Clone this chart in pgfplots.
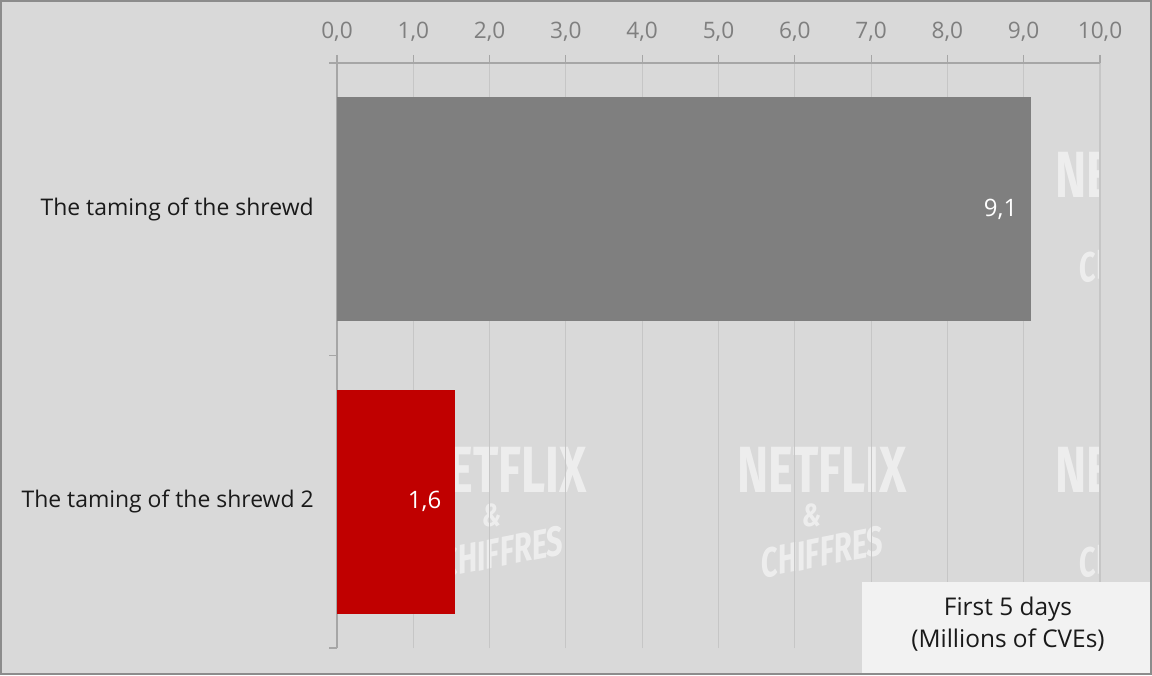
\documentclass[border=0pt]{standalone}
\usepackage{fontspec}
\setmainfont{Open Sans}
\newfontfamily\wmfont{Fira Sans}
\usepackage{pgfplots}
\pgfplotsset{compat=1.18}

\definecolor{bg}{HTML}{D9D9D9}
\definecolor{frameC}{HTML}{8C8C8C}
\definecolor{barGray}{HTML}{7F7F7F}
\definecolor{barRed}{HTML}{C00000}
\definecolor{gridC}{HTML}{C6C6C6}
\definecolor{axisC}{HTML}{A6A6A6}
\definecolor{tickC}{HTML}{7F7F7F}
\definecolor{boxC}{HTML}{F2F2F2}
\definecolor{txtC}{HTML}{1A1A1A}

% watermark block, x and y in pixels (y counted from the top)
\newcommand\wm[2]{%
  \node[white, opacity=0.55, xscale=0.72, font=\wmfont\bfseries\fontsize{49}{49}\selectfont]
    at (#1, 675-#2) {NETFLIX};
  \node[white, opacity=0.55, xscale=0.8, font=\wmfont\bfseries\itshape\fontsize{24}{24}\selectfont]
    at (#1-10, 675-#2-45) {\&};
  \node[white, opacity=0.55, xscale=0.72, rotate=8, font=\wmfont\bfseries\itshape\fontsize{31}{31}\selectfont]
    at (#1, 675-#2-82) {CHIFFRES};
}

\begin{document}
\begin{tikzpicture}
  \begin{scope}[x=0.75pt, y=0.75pt]
    \fill[bg] (0,0) rectangle (1152,675);
    % watermark, clipped to the plot area
    \begin{scope}
      \clip (337,27) rectangle (1100,612);
      \wm{502}{175}\wm{822}{175}\wm{1140}{175}
      \wm{502}{470}\wm{822}{470}\wm{1140}{470}
    \end{scope}
  \end{scope}

  \begin{axis}[
    at={(252.75pt,20.25pt)}, anchor=south west,
    scale only axis, width=572.25pt, height=438.75pt,
    xmin=0, xmax=10, ymin=-0.5, ymax=1.5,
    axis x line*=top, axis y line*=left,
    axis line style={axisC, line width=0.8pt},
    tick style={axisC, line width=0.8pt},
    tick align=outside, major tick length=6pt,
    xtick={0,...,10},
    xticklabel style={tickC, font=\fontsize{17}{17}\selectfont, yshift=6.5pt,
      /pgf/number format/.cd, fixed, fixed zerofill, precision=1, use comma, assume math mode=true},
    xmajorgrids, grid style={gridC, line width=0.8pt},
    ytick={-0.5,0.5,1.5}, yticklabels={},
    extra y ticks={0,1},
    extra y tick labels={The taming of the shrewd 2, The taming of the shrewd},
    extra y tick style={major tick length=0pt, grid=none,
      yticklabel style={txtC, font=\fontsize{17.2}{17.2}\selectfont, xshift=-14pt}},
    xbar, bar width=0.766, bar shift=0pt,
    point meta=explicit symbolic,
    nodes near coords,
    nodes near coords style={anchor=east, xshift=-7pt, white, font=\fontsize{18}{18}\selectfont},
    clip=false,
  ]
    \addplot[draw=none, fill=barGray] coordinates {(9.1,1) [9,1]};
    \addplot[draw=none, fill=barRed] coordinates {(1.55,0) [1,6]};
  \end{axis}

  \begin{scope}[x=0.75pt, y=0.75pt]
    % caption box
    \fill[boxC] (862,0) rectangle (1152,93);
    \node[txtC, align=center, font=\fontsize{18.3}{24}\selectfont] at (1008,51)
      {First 5 days\\(Millions of CVEs)};
    \draw[frameC, line width=1.5pt] (1,1) rectangle (1151,674);
  \end{scope}

  \pgfresetboundingbox
  \path[use as bounding box] (0,0) rectangle (864pt,506.25pt);
\end{tikzpicture}
\end{document}
